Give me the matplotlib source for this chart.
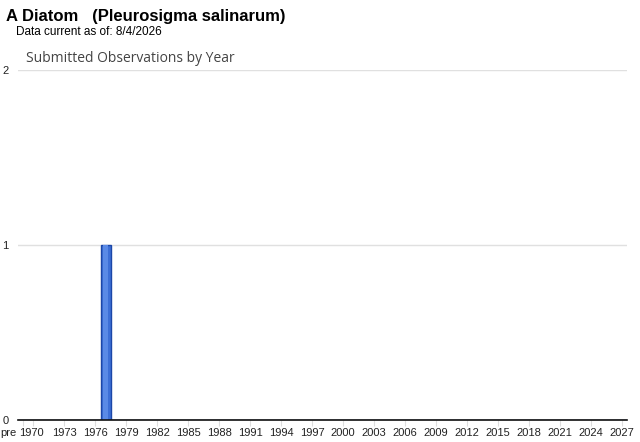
import matplotlib
matplotlib.use("Agg")
import matplotlib.pyplot as plt
import matplotlib.transforms as mtransforms

categories = ["pre"] + [str(y) for y in range(1970, 2028)]
counts = [0] * len(categories)
counts[categories.index("1977")] = 1
labelled = ["pre"] + [str(y) for y in range(1970, 2028, 3)]
y_ticks = [0, 1, 2]

title = "A Diatom   (Pleurosigma salinarum)"
subtitle = "Data current as of: 8/4/2026"
chart_title = "Submitted Observations by Year"

fig = plt.figure(figsize=(6.4, 4.42), dpi=100)
ax = fig.add_axes([18/640, 1 - 420/442, (627-18)/640, 350/442])

x = list(range(len(categories)))
ax.bar(x, counts, width=1.0, color="#3d6fd6", edgecolor="#1c47a8", linewidth=1.0, zorder=3)
ax.bar(x, counts, width=0.45, color="#5a8ae6", linewidth=0, zorder=3.5)
ax.set_xlim(-0.5, len(categories) - 0.5)
ax.set_ylim(0, 2)

ax.set_yticks(y_ticks)
ax.set_yticklabels([str(v) for v in y_ticks], fontsize=8, family="Liberation Sans", color="#222222")
ax.tick_params(axis="y", length=0, pad=7)
ax.grid(axis="y", color="#e0e0e0", linewidth=1.0, zorder=0)

tick_pos = [categories.index(l) for l in labelled]
ax.set_xticks(tick_pos)
ax.set_xticklabels(labelled, fontsize=8, family="Liberation Sans", color="#222222")
ax.tick_params(axis="x", length=4, width=0.8, color="#dddddd", pad=2)
# nudge first labels to avoid overlap
lbls = ax.get_xticklabels()
lbls[0].set_transform(lbls[0].get_transform() + mtransforms.ScaledTranslation(-14.5/100, 0, fig.dpi_scale_trans))
lbls[1].set_transform(lbls[1].get_transform() + mtransforms.ScaledTranslation(-2.5/100, 0, fig.dpi_scale_trans))

for s in ["top", "right", "left"]:
    ax.spines[s].set_visible(False)
ax.spines["bottom"].set_color("#111111")
ax.spines["bottom"].set_linewidth(1.2)
ax.spines["bottom"].set_zorder(4)

fig.text(6/640, 1 - 16/442, title, fontsize=12, fontweight="bold", family="Liberation Sans", va="center", ha="left")
fig.text(16/640, 1 - 32/442, subtitle, fontsize=8.5, family="Liberation Sans", va="center", ha="left")
fig.text(26/640, 1 - 58/442, chart_title, fontsize=10, family="Open Sans", color="#444444", va="center", ha="left")

fig.savefig("out.png", dpi=100)
